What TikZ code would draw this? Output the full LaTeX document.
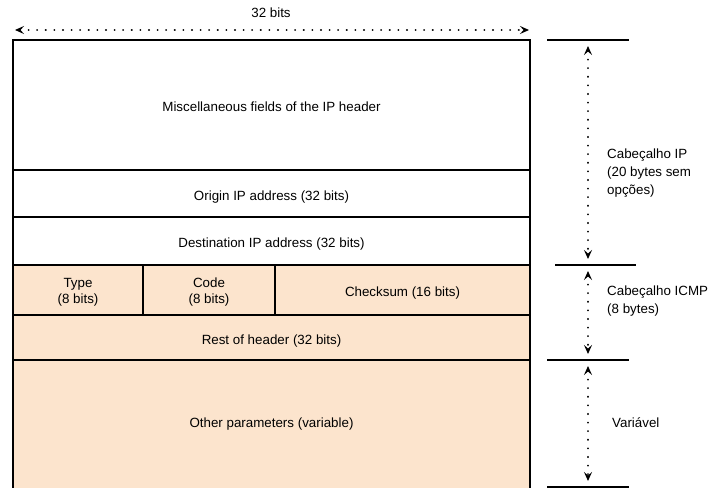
\documentclass[tikz,border=0pt]{standalone}
\usepackage{fontspec}
\setmainfont{Liberation Sans}
\usetikzlibrary{arrows.meta}
\definecolor{peach}{RGB}{252,228,205}
\tikzset{
  cell/.style={draw=black, line width=1.4bp, inner sep=0pt, outer sep=0pt, align=center, font=\fontsize{13.4}{16}\selectfont},
  one/.style={text height=16bp, text depth=2.8bp},
  icmp/.style={cell, fill=peach},
  lbl/.style={font=\fontsize{13.4}{18}\selectfont, align=left, anchor=west, inner sep=0pt},
  tick/.style={line width=1.6bp},
  dim/.style={line width=2bp, dash pattern=on 0.1bp off 8.5bp, line cap=round, {Stealth[length=9bp,width=8bp,inset=3.5bp]}-{Stealth[length=9bp,width=8bp,inset=3.5bp]}}
}
\begin{document}
\begin{tikzpicture}[x=1bp,y=-1bp]
\useasboundingbox (0,0) rectangle (719,488);
\clip (0,0) rectangle (719,488);
% left stack
\node[cell, one, minimum width=517bp, minimum height=130bp] (misc) at (271.5,105) {Miscellaneous fields of the IP header};
\node[cell, one, minimum width=517bp, minimum height=47bp] (orig) at (271.5,193.5) {Origin IP address (32 bits)};
\node[cell, one, minimum width=517bp, minimum height=48bp] (dest) at (271.5,241) {Destination IP address (32 bits)};
\node[icmp, minimum width=130bp, minimum height=50bp] (type) at (78,290) {\rule{0pt}{13bp}Type\\(8 bits)};
\node[icmp, minimum width=132bp, minimum height=50bp] (code) at (209,290) {\rule{0pt}{13bp}Code\\(8 bits)};
\node[icmp, one, minimum width=255bp, minimum height=50bp] (cks) at (402.5,290) {Checksum (16 bits)};
\node[icmp, one, minimum width=517bp, minimum height=45bp] (rest) at (271.5,337.5) {Rest of header (32 bits)};
\node[icmp, minimum width=517bp, minimum height=140bp] (other) at (271.5,430) {};
\node[font=\fontsize{13.4}{16}\selectfont, inner sep=0pt] (otxt) at (271.5,424) {Other parameters (variable)};
% top dimension
\node[font=\fontsize{13.4}{16}\selectfont, inner sep=0pt] (w) at (271,13) {32 bits};
\coordinate (tl) at (15,30);
\coordinate (tr) at (529,30);
\draw[dim] (tl) -- (tr);
% right side ticks
\coordinate (h1a) at (547,40);  \coordinate (h1b) at (629,40);
\coordinate (h2a) at (555,265); \coordinate (h2b) at (636,265);
\coordinate (h3a) at (547,360); \coordinate (h3b) at (629,360);
\coordinate (h4a) at (547,487); \coordinate (h4b) at (629,487);
\draw[tick] (h1a) -- (h1b);
\draw[tick] (h2a) -- (h2b);
\draw[tick] (h3a) -- (h3b);
\draw[tick] (h4a) -- (h4b);
\coordinate (v1a) at (588,46);  \coordinate (v1b) at (588,259);
\coordinate (v2a) at (588,271); \coordinate (v2b) at (588,354);
\coordinate (v3a) at (588,366); \coordinate (v3b) at (588,481);
\draw[dim] (v1a) -- (v1b);
\draw[dim] (v2a) -- (v2b);
\draw[dim] (v3a) -- (v3b);
\node[lbl] (l1) at (607,173) {Cabeçalho IP\\(20 bytes sem\\opções)};
\node[lbl] (l2) at (607,301) {Cabeçalho ICMP\\(8 bytes)};
\node[lbl] (l3) at (612,423) {Variável};
\end{tikzpicture}
\end{document}
